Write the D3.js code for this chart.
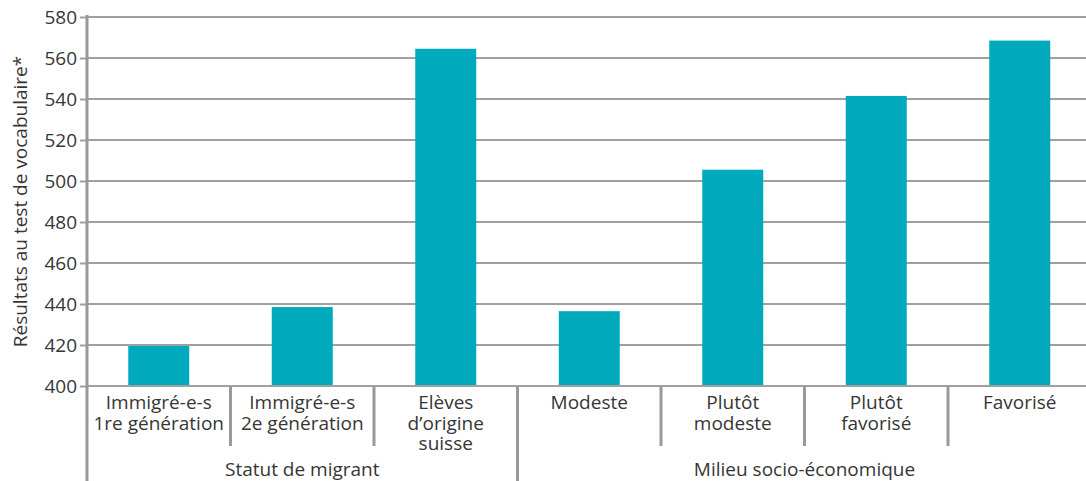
<!DOCTYPE html>
<html><head><meta charset="utf-8">
<script src="https://cdn.jsdelivr.net/npm/d3@7"></script>
<style>body{margin:0;background:#fff}svg{display:block}text{font-family:"Open Sans",sans-serif;fill:#363636}</style>
</head><body><svg id="c" width="1086" height="481"></svg>
<script>
const categories = ["Immigré-e-s\n1re génération","Immigré-e-s\n2e génération","Elèves\nd’origine\nsuisse","Modeste","Plutôt\nmodeste","Plutôt\nfavorisé","Favorisé"];
const values = [419.5, 438.5, 564.5, 436.5, 505.5, 541.5, 568.5];
const groups = ["Statut de migrant","Milieu socio-économique"];
const groupSizes = [3, 4];
const yTicks = [400,420,440,460,480,500,520,540,560,580];
const yLabel = "Résultats au test de vocabulaire*";

(function(){
const svg = d3.select("#c");
const mL = 87, mR = 1091.5, mT = 17, mB = 386;
const y = d3.scaleLinear().domain([400,580]).range([mB, mT]);
const x = d3.scaleBand().domain(categories).range([mL, mR]).paddingInner(0.575).paddingOuter(0.2875);
const gray = "#a0a0a0";
const fs = "19px";

svg.append("g").selectAll("line").data(yTicks).join("line")
  .attr("x1", mL).attr("x2", 1086).attr("y1", d=>y(d)).attr("y2", d=>y(d))
  .attr("stroke", gray).attr("stroke-width", 2);

svg.append("g").selectAll("rect").data(values).join("rect")
  .attr("x", (d,i)=>x(categories[i])).attr("width", x.bandwidth())
  .attr("y", d=>y(d)).attr("height", d=>y(400)-y(d))
  .attr("fill", "#00aabd");

svg.append("line").attr("x1", mL).attr("x2", 1086).attr("y1", y(400)).attr("y2", y(400))
  .attr("stroke", gray).attr("stroke-width", 2);

const yAxis = d3.axisLeft(y).tickValues(yTicks).tickSize(7).tickPadding(3).tickFormat(d3.format("d"));
const ga = svg.append("g").attr("transform", `translate(${mL},0)`).call(yAxis);
ga.select(".domain").remove();
ga.selectAll(".tick line").attr("stroke", gray).attr("stroke-width", 2);
ga.selectAll(".tick text").style("font-size",fs).attr("fill","#363636").attr("font-family","Open Sans");

svg.append("line").attr("x1", mL).attr("x2", mL).attr("y1", 15).attr("y2", 481)
  .attr("stroke", "#999").attr("stroke-width", 3);

const step = x.step();
let cum = 0; const groupBounds = [0];
groupSizes.forEach(s=>{cum+=s; groupBounds.push(cum);});
for (let i=1;i<categories.length;i++){
  const xx = mL + i*step;
  const isGroup = groupBounds.includes(i);
  svg.append("line").attr("x1", xx).attr("x2", xx).attr("y1", mB).attr("y2", isGroup ? 481 : 446)
    .attr("stroke", "#999").attr("stroke-width", 3);
}

categories.forEach(c=>{
  const cx = x(c) + x.bandwidth()/2;
  const t = svg.append("text").attr("x", cx).attr("y", 409).attr("text-anchor","middle").style("font-size",fs);
  c.split("\n").forEach((ln,j)=>{
    t.append("tspan").attr("x", cx).attr("dy", j===0 ? 0 : 20.5).text(ln);
  });
});

groups.forEach((g,i)=>{
  const x0 = mL + groupBounds[i]*step, x1 = mL + groupBounds[i+1]*step;
  svg.append("text").attr("x", (x0+x1)/2).attr("y", 476).attr("text-anchor","middle")
    .style("font-size",fs).text(g);
});

svg.append("text").attr("transform", `translate(27,${(mT+mB)/2}) rotate(-90)`)
  .attr("text-anchor","middle").style("font-size",fs).text(yLabel);
})();
</script></body></html>
